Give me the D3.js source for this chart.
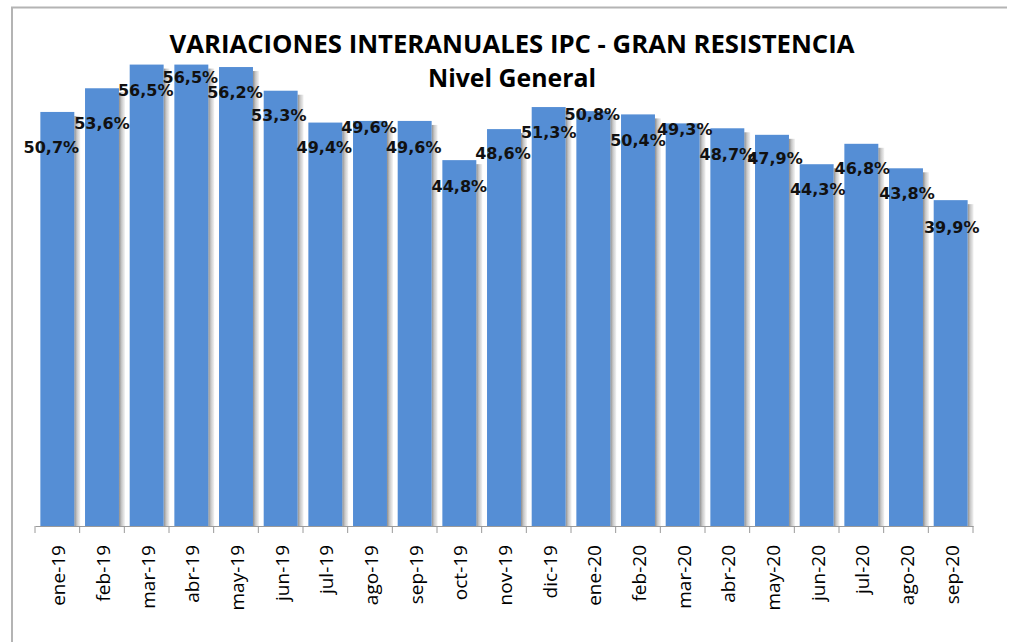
<!DOCTYPE html>
<html lang="es">
<head>
<meta charset="utf-8">
<script src="https://d3js.org/d3.v7.min.js"></script>
<style>
  body { margin: 0; background: #fff; }
  svg { display: block; }
</style>
</head>
<body>
<script>
// months and values (interannual CPI variation, %)
var months = ["ene-19","feb-19","mar-19","abr-19","may-19","jun-19","jul-19","ago-19","sep-19","oct-19","nov-19","dic-19",
              "ene-20","feb-20","mar-20","abr-20","may-20","jun-20","jul-20","ago-20","sep-20"];
var values = [50.7, 53.6, 56.5, 56.5, 56.2, 53.3, 49.4, 49.6, 49.6, 44.8, 48.6, 51.3,
              50.8, 50.4, 49.3, 48.7, 47.9, 44.3, 46.8, 43.8, 39.9];
var labels = ["50,7%","53,6%","56,5%","56,5%","56,2%","53,3%","49,4%","49,6%","49,6%","44,8%","48,6%","51,3%",
              "50,8%","50,4%","49,3%","48,7%","47,9%","44,3%","46,8%","43,8%","39,9%"];

// label placement tweaks (offset below bar top, horizontal nudge)
var labelDy = [35, 35, 26, 13, 25, 25, 25, 6, 26, 26, 24, 25, 3, 26, 6, 26, 23, 25, 24, 25, 27];
var labelDx = [-6, 0, -1, -1, -1, -2, -1, -1, -1, 0, -1, 0, -1, 0, 2, 0, 3, 1, 1, 1, 1];

var W = 1011, H = 642;
var svg = d3.select("body").append("svg").attr("width", W).attr("height", H);

// frame
svg.append("path")
  .attr("d", "M12,642 L12,7.5 L1007,7.5")
  .attr("fill", "none").attr("stroke", "#b4b4b4").attr("stroke-width", 2);

// gradient for the bar shadow
var defs = svg.append("defs");
var grad = defs.append("linearGradient").attr("id", "shade").attr("x1", 0).attr("x2", 1).attr("y1", 0).attr("y2", 0);
grad.append("stop").attr("offset", "0%").attr("stop-color", "#8e8e8e");
grad.append("stop").attr("offset", "45%").attr("stop-color", "#c9c9c9");
grad.append("stop").attr("offset", "100%").attr("stop-color", "#f4f4f4");

var x0 = 35, x1 = 973, base = 526;
var xAxisScale = d3.scaleBand().domain(months).range([x0, x1]).padding(0);
var x = d3.scaleBand().domain(months).range([x0, x1]).paddingInner(0.24).paddingOuter(0.12);
var y = d3.scaleLinear().domain([0, 60]).range([base, 36]);

var data = months.map(function(m, i) { return {m: m, v: values[i], l: labels[i], i: i}; });

// shadows
svg.append("g").selectAll("rect").data(data).enter().append("rect")
  .attr("x", function(d) { return x(d.m) + x.bandwidth(); })
  .attr("y", function(d) { return y(d.v) + 4; })
  .attr("width", 6)
  .attr("height", function(d) { return base - y(d.v) - 4; })
  .attr("fill", "url(#shade)");

// bars
svg.append("g").selectAll("rect").data(data).enter().append("rect")
  .attr("x", function(d) { return x(d.m); })
  .attr("y", function(d) { return y(d.v); })
  .attr("width", x.bandwidth())
  .attr("height", function(d) { return base - y(d.v); })
  .attr("fill", "#558ed5");

// x axis
var ax = svg.append("g").attr("transform", "translate(0," + base + ")")
  .call(d3.axisBottom(xAxisScale).tickSize(0).tickFormat(""));
ax.select(".domain").attr("stroke", "#9a9a9a");
var tickPos = months.map(function(m) { return xAxisScale(m); }).concat([x1]);
ax.selectAll("line.tk").data(tickPos).enter().append("line")
  .attr("class", "tk")
  .attr("x1", function(d) { return d; }).attr("x2", function(d) { return d; })
  .attr("y1", 0).attr("y2", 7)
  .attr("stroke", "#9a9a9a");

svg.append("g").selectAll("text").data(data).enter().append("text")
  .attr("transform", function(d) {
    return "translate(" + (xAxisScale(d.m) + xAxisScale.bandwidth() / 2 + 1) + ",545) rotate(-90)";
  })
  .attr("text-anchor", "end")
  .attr("dy", "0.36em")
  .style("font-family", "'Open Sans', sans-serif")
  .style("font-size", "19px")
  .attr("fill", "#000")
  .text(function(d) { return d.m; });

// data labels
svg.append("g").selectAll("text").data(data).enter().append("text")
  .attr("x", function(d) { return x(d.m) + x.bandwidth() / 2 + labelDx[d.i]; })
  .attr("y", function(d) { return y(d.v) + labelDy[d.i]; })
  .attr("dy", "0.36em")
  .attr("text-anchor", "middle")
  .style("font-family", "'DejaVu Sans', sans-serif")
  .style("font-weight", "bold")
  .style("font-size", "16px")
  .attr("fill", "#111")
  .text(function(d) { return d.l; });

// titles
svg.append("text")
  .attr("x", 512).attr("y", 53)
  .attr("text-anchor", "middle")
  .attr("textLength", 685).attr("lengthAdjust", "spacingAndGlyphs")
  .style("font-family", "'Open Sans', sans-serif")
  .style("font-weight", "bold")
  .style("font-size", "25px")
  .text("VARIACIONES INTERANUALES IPC - GRAN RESISTENCIA");

svg.append("text")
  .attr("x", 512).attr("y", 87)
  .attr("text-anchor", "middle")
  .attr("textLength", 168).attr("lengthAdjust", "spacingAndGlyphs")
  .style("font-family", "'Open Sans', sans-serif")
  .style("font-weight", "bold")
  .style("font-size", "25px")
  .text("Nivel General");
</script>
</body>
</html>
